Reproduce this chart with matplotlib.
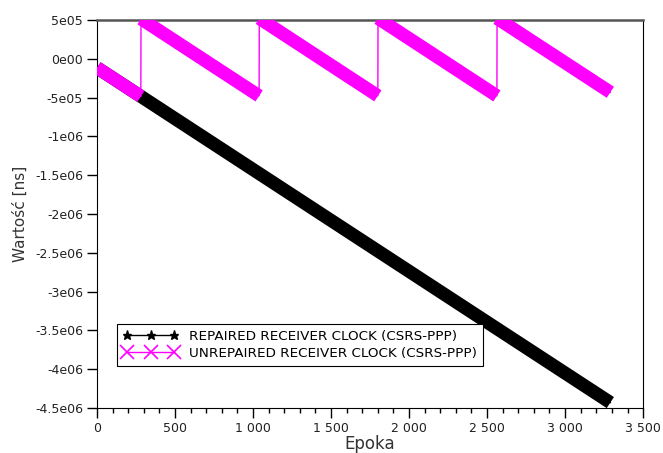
import numpy as np
import matplotlib.pyplot as plt
from matplotlib.lines import Line2D
from matplotlib.ticker import MultipleLocator, FuncFormatter

plt.rcParams['font.family'] = ['DejaVu Sans']

# epoki i wartości na końcach odcinków
unrep_epoch = [0, 281, 282, 1039, 1040, 1800, 1801, 2563, 2564, 3290]
unrep_val = [-1.15e5, -4.84e5, 5.16e5, -4.78e5, 5.22e5, -4.77e5, 5.23e5, -4.78e5, 5.22e5, -4.31e5]
rep_epoch = [0, 3290]
rep_val = [-1.15e5, -4.43e6]

ytick_vals = [5e5, 0, -5e5, -1e6, -1.5e6, -2e6, -2.5e6, -3e6, -3.5e6, -4e6, -4.5e6]
ytick_labels = ['5e05', '0e00', '-5e05', '-1e06', '-1.5e06', '-2e06', '-2.5e06',
                '-3e06', '-3.5e06', '-4e06', '-4.5e06']

fig = plt.figure(figsize=(6.63, 4.53), dpi=100)
ax = fig.add_axes([0.1463, 0.0993, 0.8237, 0.8565])

# pasek z gęstych znaczników -> gruba linia
ax.plot(rep_epoch, rep_val, color='black', linewidth=9.5, solid_capstyle='butt', zorder=2)
ax.plot(rep_epoch, rep_val, color='black', linewidth=1, zorder=2)

for i in range(0, len(unrep_epoch), 2):
    ax.plot(unrep_epoch[i:i + 2], unrep_val[i:i + 2], color='#ff00ff', linewidth=9.5,
            solid_capstyle='butt', zorder=3)
ax.plot(unrep_epoch, unrep_val, color='#ff00ff', linewidth=1, zorder=3)

ax.set_xlim(0, 3500)
ax.set_ylim(-4.5e6, 5e5)
ax.xaxis.set_major_locator(MultipleLocator(500))
ax.xaxis.set_minor_locator(MultipleLocator(100))
ax.xaxis.set_major_formatter(FuncFormatter(lambda v, p: f'{int(v):,}'.replace(',', ' ')))
ax.set_yticks(ytick_vals)
ax.set_yticklabels(ytick_labels)
ax.tick_params(axis='both', which='major', direction='out', length=7, width=1,
               labelsize=9, pad=3, labelcolor='#222222')
ax.tick_params(axis='x', which='minor', direction='out', length=3.5, width=1)

ax.spines['top'].set_color('#555555')
ax.spines['top'].set_linewidth(1.8)
ax.spines['right'].set_linewidth(0.8)

ax.set_xlabel('Epoka', fontsize=12, labelpad=0, color='#333333')
ax.set_ylabel('Wartość [ns]', fontsize=11, labelpad=5, color='#333333')

h1 = Line2D([], [], color='black', linewidth=1, marker='*', markersize=6.5)
h2 = Line2D([], [], color='#ff00ff', linewidth=1, marker='x', markersize=10, markeredgewidth=1.2)
leg = ax.legend([h1, h2], ['REPAIRED RECEIVER CLOCK (CSRS-PPP)', 'UNREPAIRED RECEIVER CLOCK (CSRS-PPP)'],
                loc='lower left', bbox_to_anchor=(0.037, 0.108), numpoints=3, fontsize=9.7,
                fancybox=False, framealpha=1, edgecolor='black', handlelength=4.1,
                handletextpad=0.8, borderpad=0.45, labelspacing=0.3, borderaxespad=0)
leg.get_frame().set_linewidth(0.8)

fig.savefig('out.png', dpi=100)
